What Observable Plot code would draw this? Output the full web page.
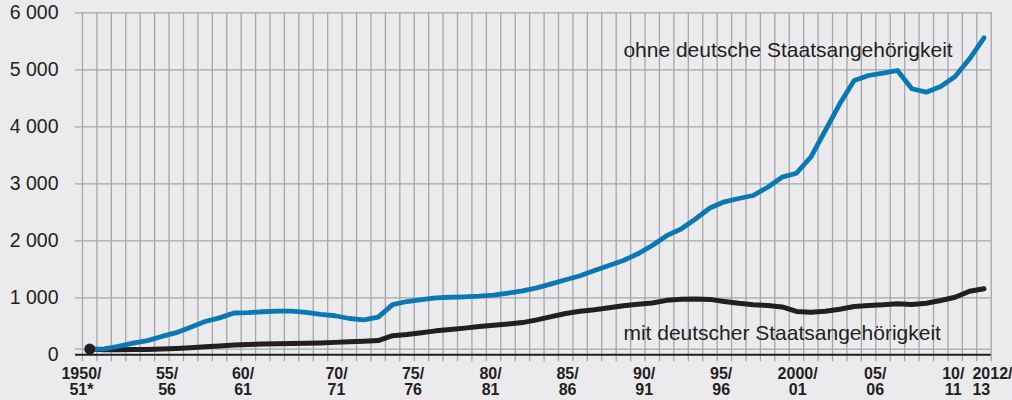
<!DOCTYPE html>
<html><head><meta charset="utf-8">
<script src="https://cdn.jsdelivr.net/npm/d3@7"></script>
<script src="https://cdn.jsdelivr.net/npm/@observablehq/plot@0.6"></script>
<style>
html,body{margin:0;padding:0;background:#ebebed;}
#chart{width:1012px;height:400px;overflow:hidden;}
</style></head><body><div id="chart"></div>
<script>
// School years (start year): 1950/51 … 2012/13
const schoolYears = d3.range(1950, 2013);

// ohne deutsche Staatsangehörigkeit
const ohneDeutsche = [
  100, 105, 150, 205, 248, 322, 388, 484, 584, 648,
  733, 740, 755, 765, 765, 745, 710, 685, 637, 614,
  660, 880, 935, 970, 1000, 1010, 1018, 1028, 1046, 1080,
  1122, 1175, 1245, 1316, 1386, 1479, 1567, 1654, 1772, 1917,
  2090, 2207, 2382, 2575, 2684, 2742, 2795, 2940, 3116, 3186,
  3470, 3935, 4404, 4812, 4900, 4940, 4988, 4667, 4607, 4707,
  4882, 5193, 5561
];

// mit deutscher Staatsangehörigkeit
const mitDeutscher = [
  100, 90, 90, 92, 95, 100, 110, 125, 140, 155,
  170, 182, 190, 195, 200, 203, 208, 218, 230, 239,
  250, 335, 355, 385, 420, 445, 468, 495, 518, 540,
  565, 612, 670, 725, 765, 790, 825, 860, 885, 910,
  955, 975, 980, 972, 935, 903, 877, 865, 840, 760,
  747, 765, 800, 847, 865, 877, 895, 882, 905, 953,
  1010, 1116, 1158
];

const yTicks = [0, 1000, 2000, 3000, 4000, 5000, 6000];
const extraGridValue = 100;

const xTickLabels = ["1950/\n51*", "55/\n56", "60/\n61", "70/\n71", "75/\n76", "80/\n81",
  "85/\n86", "90/\n91", "95/\n96", "2000/\n01", "05/\n06", "10/\n11", "2012/\n13"];
// positions of the tick labels (in school-year units)
const xTickAt = [1949.43, 1955.36, 1960.63, 1967.11, 1972.42, 1977.79,
  1983.13, 1988.44, 1993.78, 1999.08, 2004.46, 2009.87, 2011.2];

const seriesLabels = ["ohne deutsche Staatsangehörigkeit", "mit deutscher Staatsangehörigkeit"];
const seriesLabelYear = [1987, 1987];
const seriesLabelValue = [5230, 260];
const seriesLabelBoxRightPad = [4, 31];

const data = schoolYears.map((yr, i) => ({year: yr, ohne: ohneDeutsche[i], mit: mitDeutscher[i]}));
const gridX = d3.range(schoolYears.length + 1).map(k => schoolYears[0] - 0.5 + k);
const tickData = xTickLabels.map((t, i) => ({label: t, at: xTickAt[i], last: i === xTickLabels.length - 1}));
const annot = seriesLabels.map((t, i) => ({text: t, x: seriesLabelYear[i], y: seriesLabelValue[i]}));

const locale = d3.formatLocale({decimal: ",", thousands: " ", grouping: [3], currency: ["", " €"]});
const fmt = locale.format(",d");

const BG = "#ebebed", GRID = "#a6a6a8", INK = "#231f20", BLUE = "#0a78b4";
const FONT = "'Liberation Sans', Arial, Helvetica, sans-serif";

const plot = Plot.plot({
  width: 1012, height: 400,
  marginLeft: 82, marginRight: 21.3, marginTop: 12.3, marginBottom: 45.7,
  style: {background: BG, fontFamily: FONT, color: INK},
  x: {domain: [schoolYears[0] - 0.5, schoolYears[schoolYears.length - 1] + 0.5], axis: null},
  y: {domain: [0, 6000], axis: null},
  marks: [
    Plot.ruleX(gridX, {stroke: GRID, strokeWidth: 1.3, insetBottom: -7}),
    Plot.ruleY(yTicks.filter(d => d > 0), {stroke: GRID, strokeWidth: 1.3, insetLeft: -7}),
    Plot.ruleY([extraGridValue], {stroke: GRID, strokeWidth: 1.3, insetLeft: -7}),
    Plot.text(annot, {x: "x", y: "y", text: "text", textAnchor: "start", lineAnchor: "bottom",
      fontSize: 21, fill: INK, ariaLabel: "annotation"}),
    Plot.ruleY([0], {stroke: INK, strokeWidth: 2, insetLeft: -7}),
    Plot.line(data, {x: "year", y: "mit", stroke: INK, strokeWidth: 5, strokeLinejoin: "round"}),
    Plot.line(data, {x: "year", y: "ohne", stroke: BLUE, strokeWidth: 4.8, strokeLinejoin: "round"}),
    Plot.dot(data.slice(0, 1), {x: "year", y: "mit", r: 5.5, fill: INK, stroke: "none"}),
    Plot.text(yTicks, {y: d => d, text: d => fmt(d), frameAnchor: "left", textAnchor: "end", dx: -24,
      fontSize: 19.5, fill: INK}),
    Plot.text(tickData.filter(d => !d.last), {x: "at", text: "label", frameAnchor: "bottom", lineAnchor: "top",
      dy: 13, fontSize: 16, fontWeight: "bold", lineHeight: 1.0, fill: INK}),
    Plot.text(tickData.filter(d => d.last), {x: "at", text: "label", frameAnchor: "bottom", lineAnchor: "top",
      textAnchor: "start", dy: 13, fontSize: 16, fontWeight: "bold", lineHeight: 1.0, fill: INK})
  ]
});

document.getElementById("chart").appendChild(plot);

// background boxes behind the series labels (sized from the rendered text)
const g = plot.querySelector('g[aria-label="annotation"]');
if (g) {
  const texts = g.querySelectorAll("text");
  texts.forEach((t, i) => {
    const b = t.getBBox();
    const r = document.createElementNS("http://www.w3.org/2000/svg", "rect");
    r.setAttribute("x", b.x - 6);
    r.setAttribute("y", b.y - 4);
    r.setAttribute("width", b.width + 6 + seriesLabelBoxRightPad[i]);
    r.setAttribute("height", b.height + 7);
    r.setAttribute("fill", BG);
    g.parentNode.insertBefore(r, g);
  });
}
</script>
</body></html>
